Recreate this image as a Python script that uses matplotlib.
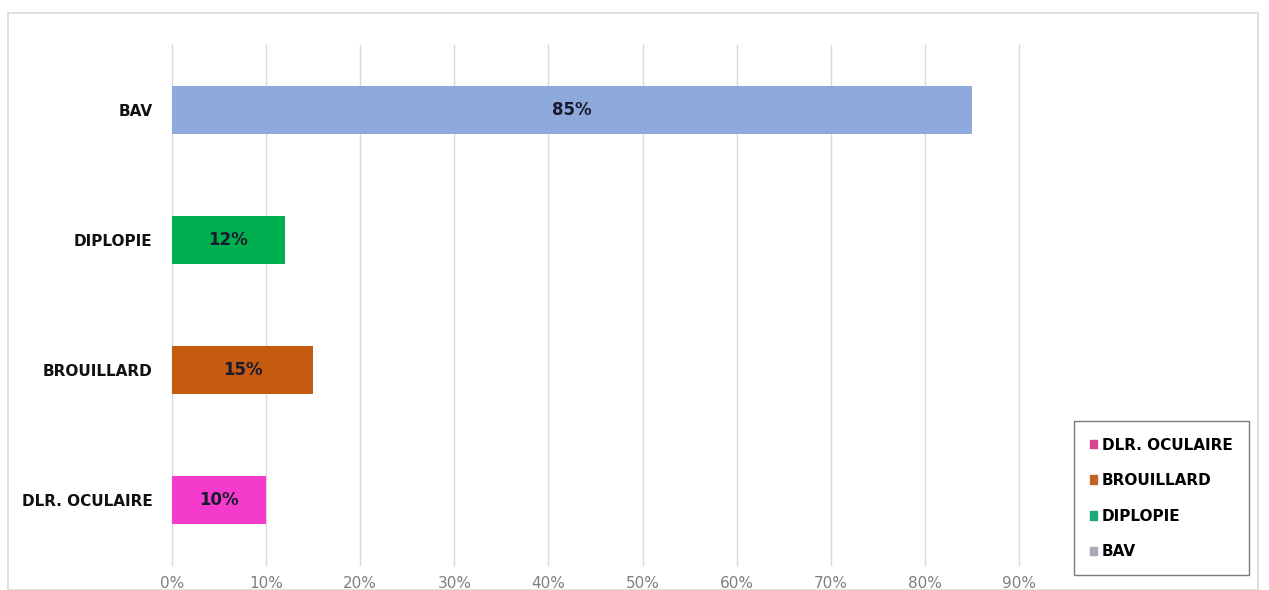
import matplotlib.pyplot as plt
from matplotlib.patches import Rectangle, Patch
from matplotlib.ticker import FuncFormatter

# symptom categories, bottom to top
categories = ["DLR. OCULAIRE", "BROUILLARD", "DIPLOPIE", "BAV"]
values = [10, 15, 12, 85]
bar_colors = ["#F43BCB", "#C55A11", "#00B050", "#8EA9DB"]
legend_colors = ["#D6438F", "#C0652B", "#1FA878", "#A9A9B8"]

label_font = "DejaVu Sans"

fig = plt.figure(figsize=(12.69, 5.90), dpi=100)
fig.patches.append(Rectangle((8 / 1269, 0), 1250 / 1269, 1 - 13 / 590,
                             transform=fig.transFigure, fill=False,
                             edgecolor="#D9D9D9", linewidth=1.2))

ax = fig.add_axes([172 / 1269, 25 / 590, (1019 - 172) / 1269, (545 - 25) / 590])

y = range(len(categories))
bars = ax.barh(y, values, height=0.37, color=bar_colors, zorder=2)

for bar, v in zip(bars, values):
    ax.text(v / 2, bar.get_y() + bar.get_height() / 2, f"{v}%",
            ha="center", va="center", fontsize=12, fontweight="bold",
            color="#1A1A2E", family=label_font, zorder=3)

ax.set_xlim(0, 90)
ax.set_ylim(-0.5, 3.5)
ax.set_xticks(range(0, 91, 10))
ax.xaxis.set_major_formatter(FuncFormatter(lambda v, _: f"{v:.0f}%"))
ax.set_yticks(list(y))
ax.set_yticklabels(categories, fontsize=11, fontweight="bold",
                   family=label_font, color="#111111")
ax.tick_params(axis="x", length=0, labelsize=11, labelcolor="#7F7F7F", pad=8)
ax.tick_params(axis="y", length=0, pad=14)
ax.grid(axis="x", color="#D9D9D9", linewidth=1, zorder=0)
for line in ax.get_xgridlines():
    line.set_clip_on(False)
for s in ax.spines.values():
    s.set_visible(False)

handles = [Patch(color=c, label=l) for c, l in zip(legend_colors, categories)]
leg = fig.legend(handles=handles, loc="lower left",
                 bbox_to_anchor=(1069 / 1269, 10 / 590),
                 prop={"family": label_font, "weight": "bold", "size": 11},
                 handlelength=0.5, handleheight=0.5, handletextpad=0.3,
                 labelspacing=1.35, borderpad=1.05, borderaxespad=0.3,
                 fancybox=False, frameon=True, edgecolor="#595959")
leg.get_frame().set_linewidth(1.0)

fig.savefig("out.png", dpi=100)
